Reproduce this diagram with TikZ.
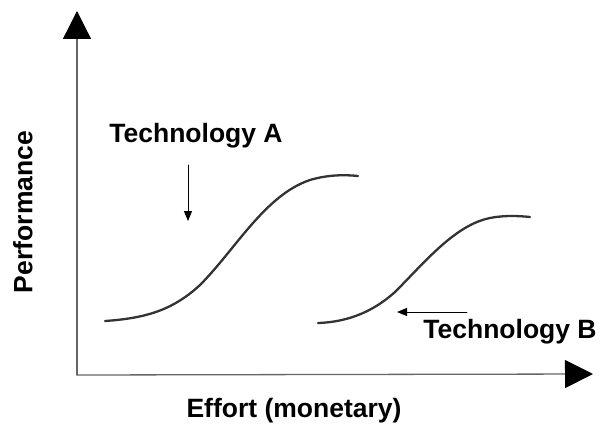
\documentclass[tikz,border=0pt]{standalone}
\usepackage{fontspec}
\setmainfont{Liberation Sans}
\usetikzlibrary{arrows.meta}
\begin{document}
\begin{tikzpicture}[x=1pt,y=-1pt, line join=round, line cap=round,
	font=\fontsize{26.5}{30}\selectfont\bfseries, >={Triangle[width=8pt,length=10pt]}]
	\useasboundingbox (0,0) rectangle (605,428);
	\tikzset{axis/.style={draw=gray!80!black,line width=1.3pt,-{Triangle[width=28pt,length=28pt,line cap=butt,color=black,fill=black]}},
		curve/.style={draw=black!80,line width=2.3pt}}
	% axes
	\coordinate (O) at (77,375);
	\coordinate (Ytip) at (77,11);
	\coordinate (Xtip) at (593,374);
	\draw[axis] (O)--(Ytip);
	\draw[axis] (O)--(Xtip);
	\node[rotate=90] (perf) at (23,212) {Performance};
	\node (effort) at (294,411) {Effort (monetary)};
	% technology A
	\draw[curve] (105,321) .. controls (150,318) and (175,308) .. (200,285)
		.. controls (235,250) and (265,195) .. (310,180)
		.. controls (330,174) and (348,175) .. (358,176);
	\node (techA) at (196,136) {Technology A};
	\coordinate (a1) at (188,165);
	\coordinate (a2) at (188,221);
	\draw[->,line width=0.9pt] (a1)--(a2);
	% technology B
	\draw[curve] (318,323) .. controls (350,322) and (375,310) .. (395,292)
		.. controls (425,262) and (455,225) .. (490,218)
		.. controls (505,215) and (520,216) .. (530,217);
	\node (techB) at (510,332) {Technology B};
	\coordinate (b1) at (467,312);
	\coordinate (b2) at (397,312);
	\draw[->,line width=0.9pt] (b1)--(b2);
\end{tikzpicture}
\end{document}
